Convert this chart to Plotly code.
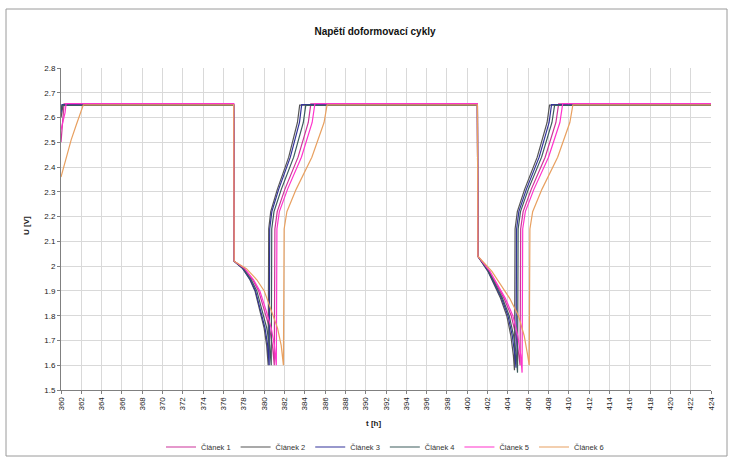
import plotly.graph_objects as go

# ---- data ----
names = ["Článek 1", "Článek 2", "Článek 3", "Článek 4", "Článek 5", "Článek 6"]
colors = ["#cc3399", "#555555", "#333399", "#3d5c5c", "#ff33cc", "#e8a060"]

T_C1 = [360, 360.15, 360.3, 377.0, 377.05, 378.04, 378.87, 379.46, 380.05, 380.53, 380.82, 381.0,
        381.06, 381.29, 382.04, 383.34, 384.35, 384.6, 401.0, 401.05, 402.17, 402.83, 403.62, 404.33,
        404.79, 405.08, 405.2, 405.26, 405.5, 406.3, 407.67, 408.73, 409.0, 424]
U_C1 = [2.50, 2.58, 2.655, 2.655, 2.02, 1.99, 1.945, 1.90, 1.82, 1.75, 1.68, 1.60,
        2.15, 2.22, 2.31, 2.44, 2.58, 2.655, 2.655, 2.04, 1.98, 1.93, 1.87, 1.80,
        1.72, 1.64, 1.60, 2.15, 2.22, 2.31, 2.44, 2.58, 2.655, 2.655]

T_C2 = [360, 360.2, 377.0, 377.05, 377.9, 378.6, 379.1, 379.6, 380.0, 380.25, 380.4,
        380.45, 380.65, 381.3, 382.42, 383.28, 383.5, 401.0, 401.05, 402.02, 402.6, 403.28, 403.89,
        404.29, 404.54, 404.65, 404.71, 404.93, 405.65, 406.89, 407.86, 408.1, 424]
U_C2 = [2.60, 2.650, 2.650, 2.02, 1.99, 1.945, 1.90, 1.82, 1.75, 1.68, 1.60,
        2.15, 2.22, 2.31, 2.44, 2.58, 2.650, 2.650, 2.04, 1.98, 1.93, 1.87, 1.80,
        1.72, 1.64, 1.58, 2.15, 2.22, 2.31, 2.44, 2.58, 2.650, 2.650]

T_C3 = [360, 360.1, 377.0, 377.05, 377.9, 378.64, 379.15, 379.67, 380.09, 380.35, 380.5,
        380.55, 380.76, 381.43, 382.58, 383.48, 383.7, 401.0, 401.05, 402.06, 402.66, 403.38, 404.01,
        404.43, 404.69, 404.8, 404.86, 405.08, 405.82, 407.08, 408.06, 408.3, 424]
U_C3 = [2.62, 2.652, 2.652, 2.02, 1.99, 1.945, 1.90, 1.82, 1.75, 1.68, 1.60,
        2.15, 2.22, 2.31, 2.44, 2.58, 2.652, 2.652, 2.04, 1.98, 1.93, 1.87, 1.80,
        1.72, 1.64, 1.59, 2.15, 2.22, 2.31, 2.44, 2.58, 2.652, 2.652]

T_C4 = [360, 360.1, 377.0, 377.05, 377.96, 378.73, 379.28, 379.82, 380.26, 380.54, 380.7,
        380.75, 380.97, 381.69, 382.91, 383.86, 384.1, 401.0, 401.05, 402.1, 402.73, 403.47, 404.13,
        404.56, 404.83, 404.95, 405.01, 405.24, 406.01, 407.32, 408.34, 408.6, 424]
U_C4 = [2.63, 2.649, 2.649, 2.02, 1.99, 1.945, 1.90, 1.82, 1.75, 1.68, 1.60,
        2.15, 2.22, 2.31, 2.44, 2.58, 2.649, 2.649, 2.04, 1.98, 1.93, 1.87, 1.80,
        1.72, 1.64, 1.57, 2.15, 2.22, 2.31, 2.44, 2.58, 2.649, 2.649]

T_C5 = [360, 360.4, 360.5, 377.0, 377.05, 378.09, 378.96, 379.58, 380.20, 380.70, 381.01, 381.2,
        381.26, 381.5, 382.3, 383.67, 384.73, 385.0, 401.0, 401.05, 402.22, 402.92, 403.75, 404.49,
        404.97, 405.27, 405.4, 405.46, 405.72, 406.56, 408.0, 409.12, 409.4, 424]
U_C5 = [2.55, 2.62, 2.656, 2.656, 2.02, 1.99, 1.945, 1.90, 1.82, 1.75, 1.68, 1.60,
        2.15, 2.22, 2.31, 2.44, 2.58, 2.656, 2.656, 2.04, 1.98, 1.93, 1.87, 1.80,
        1.72, 1.64, 1.57, 2.15, 2.22, 2.31, 2.44, 2.58, 2.656, 2.656]

T_C6 = [360, 360.5, 361.0, 361.5, 362.0, 362.2, 377.0, 377.05, 378.26, 379.28, 380.01, 380.74, 381.32,
        381.68, 381.9, 381.97, 382.24, 383.15, 384.7, 385.9, 386.2, 401.0, 401.05, 402.41, 403.22,
        404.18, 405.04, 405.6, 405.95, 406.1, 406.17, 406.44, 407.35, 408.9, 410.1, 410.4, 424]
U_C6 = [2.36, 2.44, 2.51, 2.57, 2.63, 2.651, 2.651, 2.02, 1.99, 1.945, 1.90, 1.82, 1.75,
        1.68, 1.60, 2.15, 2.22, 2.31, 2.44, 2.58, 2.651, 2.651, 2.04, 1.98, 1.93,
        1.87, 1.80, 1.72, 1.64, 1.60, 2.15, 2.22, 2.31, 2.44, 2.58, 2.651, 2.651]

T_ALL = [T_C1, T_C2, T_C3, T_C4, T_C5, T_C6]
U_ALL = [U_C1, U_C2, U_C3, U_C4, U_C5, U_C6]

x_ticks = list(range(360, 425, 2))
y_ticks = [1.5, 1.6, 1.7, 1.8, 1.9, 2.0, 2.1, 2.2, 2.3, 2.4, 2.5, 2.6, 2.7, 2.8]
y_labels = ["1.5", "1.6", "1.7", "1.8", "1.9", "2", "2.1", "2.2", "2.3", "2.4", "2.5", "2.6", "2.7", "2.8"]

title_text = "Napětí doformovací cykly"
x_title = "t [h]"
y_title = "U [V]"

# ---- figure ----
fig = go.Figure()
for name, col, t, u in zip(names, colors, T_ALL, U_ALL):
    fig.add_trace(go.Scatter(x=t, y=u, mode="lines", name=name,
                             line=dict(color=col, width=1.2)))

W, H = 729, 457
ml, mr, mt, mb = 61, 18, 68, 67
pw, ph = W - ml - mr, H - mt - mb

def px_x(p):
    return (p - ml) / pw

def px_y(p):
    return (H - mb - p) / ph

font_family = "Liberation Sans, Arial, sans-serif"

fig.update_layout(
    width=W, height=H,
    margin=dict(l=ml, r=mr, t=mt, b=mb, autoexpand=False),
    paper_bgcolor="white", plot_bgcolor="white",
    font=dict(family=font_family, size=8, color="#222222"),
    title=dict(text="<b>" + title_text + "</b>", x=375 / W,
               xanchor="center", y=1 - 31 / H, yanchor="middle",
               font=dict(size=10, color="#111111")),
    showlegend=True,
    legend=dict(orientation="h", x=px_x(385), xanchor="center", y=px_y(447), yanchor="middle",
                font=dict(size=7.5, color="#333333"), bgcolor="rgba(0,0,0,0)",
                itemwidth=30, tracegroupgap=0),
    xaxis=dict(range=[360, 424], tickvals=x_ticks, ticktext=[str(v) for v in x_ticks],
               tickangle=-90, showgrid=True, gridcolor="#d9d9d9", gridwidth=1,
               showline=True, linecolor="#808080", linewidth=1,
               ticks="outside", ticklen=3, tickcolor="#808080", automargin=False,
               tickfont=dict(size=8), zeroline=False, fixedrange=True),
    yaxis=dict(range=[1.5, 2.8], tickvals=y_ticks, ticktext=y_labels,
               showgrid=True, gridcolor="#d9d9d9", gridwidth=1,
               showline=True, linecolor="#808080", linewidth=1,
               ticks="outside", ticklen=3, tickcolor="#808080", automargin=False,
               tickfont=dict(size=8), zeroline=False, fixedrange=True),
    annotations=[
        dict(text="<b>" + x_title + "</b>", xref="paper", yref="paper",
             x=px_x(373), y=px_y(423), xanchor="center", yanchor="middle",
             showarrow=False, font=dict(size=8)),
        dict(text="<b>" + y_title + "</b>", xref="paper", yref="paper",
             x=px_x(26), y=px_y(226), xanchor="center", yanchor="middle",
             showarrow=False, textangle=-90, font=dict(size=8)),
    ],
    shapes=[
        dict(type="rect", xref="paper", yref="paper",
             x0=px_x(6), x1=px_x(727), y0=px_y(456), y1=px_y(9),
             line=dict(color="#9a9a9a", width=1), fillcolor="rgba(0,0,0,0)", layer="below"),
    ],
)

fig.write_html("out.html")
